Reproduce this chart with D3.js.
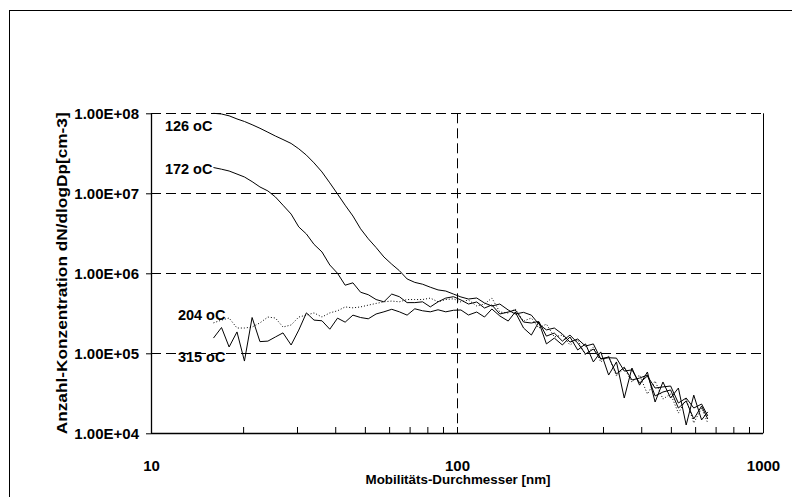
<!DOCTYPE html>
<html>
<head>
<meta charset="utf-8">
<script src="https://cdn.jsdelivr.net/npm/d3@7/dist/d3.min.js"></script>
<style>
  body { margin: 0; padding: 0; background: #fff; }
  svg { display: block; }
  text { font-family: "Liberation Sans", Arial, sans-serif; font-weight: bold; fill: #000; }
</style>
</head>
<body>
<svg id="chart" width="792" height="497"></svg>
<script>
// mobility diameter [nm]
var diameters = [16.0, 17.0, 18.0, 19.1, 20.2, 21.4, 22.7, 24.1, 25.5, 27.0,
  28.7, 30.4, 32.2, 34.1, 36.2, 38.4, 40.7, 43.1, 45.7, 48.4,
  51.3, 54.4, 57.7, 61.2, 64.8, 68.7, 72.8, 77.2, 81.8, 86.7,
  91.9, 97.4, 103, 109, 116, 123, 130, 138, 147, 155,
  165, 175, 185, 196, 208, 221, 234, 248, 263, 279,
  295, 313, 332, 352, 373, 395, 419, 444, 471, 499,
  529, 561, 594, 630, 660];

var seriesNames = ["126 oC", "172 oC", "204 oC", "315 oC"];

var conc126 = [1.0e8, 9.8e7, 9.3e7, 8.5e7, 7.9e7, 7.2e7, 6.5e7, 5.8e7, 5.2e7, 4.7e7,
  4.2e7, 3.6e7, 3.0e7, 2.4e7, 1.85e7, 1.35e7, 9.8e6, 7.1e6, 5.2e6, 3.6e6,
  2.7e6, 2.1e6, 1.6e6, 1.3e6, 1.08e6, 8.5e5, 7.7e5, 7.3e5, 6.7e5, 6.2e5,
  6.0e5, 5.5e5, 5.06e5, 4.77e5, 4.91e5, 4.25e5, 3.9e5, 4.13e5, 3.48e5, 3.1e5,
  3.25e5, 3.0e5, 2.32e5, 1.96e5, 2.07e5, 1.74e5, 1.38e5, 1.51e5, 1.23e5, 1.31e5,
  8.5e4, 8.8e4, 8.7e4, 6.0e4, 6.2e4, 4.25e4, 5.2e4, 3.68e4, 3.8e4, 3.9e4,
  2.39e4, 2.76e4, 2.07e4, 2.32e4, 1.65e4];

var conc172 = [2.1e7, 2.0e7, 1.9e7, 1.74e7, 1.6e7, 1.4e7, 1.2e7, 1.07e7, 9.0e6, 7.1e6,
  5.5e6, 3.8e6, 3.1e6, 2.3e6, 1.85e6, 1.27e6, 1.0e6, 7.1e5, 7.6e5, 5.8e5,
  5.4e5, 4.7e5, 4.4e5, 5.5e5, 5.1e5, 4.3e5, 4.3e5, 4.4e5, 3.8e5, 4.4e5,
  4.9e5, 5.1e5, 4.64e5, 4.13e5, 4.38e5, 3.68e5, 4.02e5, 3.1e5, 3.28e5, 3.48e5,
  2.46e5, 2.39e5, 2.5e5, 1.64e5, 1.79e5, 1.42e5, 1.69e5, 1.345e5, 9.8e4, 1.13e5,
  8.5e4, 9.0e4, 5.5e4, 6.7e4, 4.64e4, 4.9e4, 5.35e4, 2.93e4, 3.28e4, 3.48e4,
  2.07e4, 2.53e4, 1.51e4, 2.19e4, 1.51e4];

var conc204 = [2.4e5, 2.6e5, 2.76e5, 2.07e5, 2.07e5, 2.13e5, 2.4e5, 2.84e5, 2.76e5, 2.13e5,
  2.26e5, 2.84e5, 3.0e5, 3.2e5, 2.84e5, 3.2e5, 3.4e5, 3.8e5, 3.7e5, 3.8e5,
  4.0e5, 4.2e5, 4.4e5, 4.5e5, 4.4e5, 4.7e5, 4.7e5, 4.7e5, 4.9e5, 4.4e5,
  4.7e5, 4.8e5, 4.38e5, 4.64e5, 3.9e5, 4.13e5, 4.91e5, 3.28e5, 3.19e5, 3.58e5,
  2.53e5, 2.76e5, 2.07e5, 2.32e5, 1.6e5, 1.69e5, 1.27e5, 1.47e5, 9.5e4, 1.2e5,
  7.8e4, 9.25e4, 5.2e4, 6.55e4, 4.38e4, 5.35e4, 3.1e4, 4.5e4, 2.68e4, 3.1e4,
  1.79e4, 2.68e4, 1.345e4, 2.07e4, 1.345e4];

var conc315 = [1.55e5, 2.1e5, 1.2e5, 1.85e5, 8.0e4, 2.8e5, 1.4e5, 1.42e5, 1.6e5, 1.8e5,
  1.27e5, 1.95e5, 3.2e5, 2.6e5, 2.55e5, 2.0e5, 2.75e5, 2.45e5, 3.0e5, 2.8e5,
  2.7e5, 3.1e5, 3.3e5, 3.55e5, 3.3e5, 3.0e5, 3.6e5, 3.4e5, 3.3e5, 3.5e5,
  3.3e5, 3.45e5, 3.48e5, 3.01e5, 3.28e5, 2.84e5, 3.58e5, 2.93e5, 2.53e5, 3.28e5,
  2.07e5, 1.69e5, 2.46e5, 1.31e5, 1.55e5, 1.27e5, 1.6e5, 1.1e5, 1.31e5, 7.8e4,
  1.04e5, 5.35e4, 7.8e4, 2.76e4, 6.55e4, 4.0e4, 5.84e4, 2.46e4, 4.38e4, 2.76e4,
  3.68e4, 1.27e4, 3.0e4, 1.47e4, 1.85e4];

var xTicks = [10, 20, 30, 40, 50, 60, 70, 80, 90, 100, 200, 300, 400, 500, 600, 700, 800, 900, 1000];
var xLabels = [10, 100, 1000];
var yTicks = [1e4, 1e5, 1e6, 1e7, 1e8];

var allSeries = [conc126, conc172, conc204, conc315];
var dashes = [null, null, "1,2", null];
// label placement relative to the first point of each series
var labelOffset = [[-1, 18], [-1, 6], [12, -3], [12, 24]];

var svg = d3.select("#chart");
var plotL = 151, plotR = 763, plotT = 113.3, plotB = 433.3;

var x = d3.scaleLog().domain([10, 1000]).range([plotL, plotR]);
var y = d3.scaleLog().domain([1e4, 1e8]).range([plotB, plotT]);

// chart frame
svg.append("rect")
  .attr("x", 9.5).attr("y", 10.5)
  .attr("width", 820).attr("height", 520)
  .attr("fill", "none").attr("stroke", "#000").attr("stroke-width", 1);

var clip = svg.append("clipPath").attr("id", "plotclip");
clip.append("rect").attr("x", plotL).attr("y", plotT - 1).attr("width", plotR - plotL).attr("height", plotB - plotT + 1);

// grid
svg.append("g").selectAll("line").data(yTicks.slice(1)).enter().append("line")
  .attr("x1", plotL).attr("x2", plotR)
  .attr("y1", function(d) { return Math.round(y(d)) + 0.5; })
  .attr("y2", function(d) { return Math.round(y(d)) + 0.5; })
  .attr("stroke", "#000").attr("stroke-dasharray", "10,5");

svg.append("line")
  .attr("x1", Math.round(x(100)) + 0.5).attr("x2", Math.round(x(100)) + 0.5)
  .attr("y1", plotT).attr("y2", plotB)
  .attr("stroke", "#000").attr("stroke-dasharray", "10,5");

svg.append("line")
  .attr("x1", plotR + 0.5).attr("x2", plotR + 0.5)
  .attr("y1", plotT).attr("y2", plotB)
  .attr("stroke", "#000");

// axes
var xAxis = d3.axisBottom(x)
  .tickValues(xTicks)
  .tickSize(-6)
  .tickPadding(27)
  .tickFormat(function(d) { return xLabels.indexOf(d) >= 0 ? d : ""; });

var gx = svg.append("g")
  .attr("transform", "translate(0," + Math.round(plotB) + ")")
  .call(xAxis);

var yAxis = d3.axisLeft(y)
  .tickValues(yTicks)
  .tickSize(5)
  .tickPadding(7)
  .tickFormat(function(d) { return "1.00E+0" + Math.round(Math.log10(d)); });

var gy = svg.append("g")
  .attr("transform", "translate(" + plotL + ",0)")
  .call(yAxis);

[gx, gy].forEach(function(g) {
  g.selectAll("path").attr("stroke", "#000").attr("stroke-width", 1.3);
  g.selectAll(".tick line").attr("stroke", "#000");
  g.selectAll("text").style("font-family", "'Liberation Sans', Arial, sans-serif")
    .style("font-weight", "bold").style("font-size", "15px").attr("fill", "#000");
});
gx.select(".domain").attr("d", "M" + plotL + ",0.5H" + plotR);
gy.select(".domain").attr("d", "M0.5," + plotT + "V" + plotB);

// lines
var line = d3.line()
  .x(function(d, i) { return x(diameters[i]); })
  .y(function(d) { return y(d); });

svg.append("g").attr("clip-path", "url(#plotclip)")
  .selectAll("path").data(allSeries).enter().append("path")
  .attr("d", line)
  .attr("fill", "none")
  .attr("stroke", "#000")
  .attr("stroke-width", 1)
  .attr("stroke-dasharray", function(d, i) { return dashes[i]; });

// series labels
svg.append("g").selectAll("text").data(allSeries).enter().append("text")
  .attr("x", function(d, i) { return x(diameters[0]) + labelOffset[i][0]; })
  .attr("y", function(d, i) { return y(d[0]) + labelOffset[i][1]; })
  .attr("text-anchor", "end")
  .style("font-size", "14.5px")
  .text(function(d, i) { return seriesNames[i]; });

// axis titles
svg.append("text")
  .attr("x", (plotL + plotR) / 2 + 1)
  .attr("y", 484)
  .attr("text-anchor", "middle")
  .attr("textLength", 185)
  .attr("lengthAdjust", "spacingAndGlyphs")
  .style("font-size", "13.5px")
  .text("Mobilitäts-Durchmesser [nm]");

svg.append("text")
  .attr("transform", "translate(67," + ((plotT + plotB) / 2) + ") rotate(-90)")
  .attr("text-anchor", "middle")
  .attr("textLength", 322)
  .attr("lengthAdjust", "spacingAndGlyphs")
  .style("font-size", "14px")
  .text("Anzahl-Konzentration dN/dlogDp[cm-3]");
</script>
</body>
</html>
